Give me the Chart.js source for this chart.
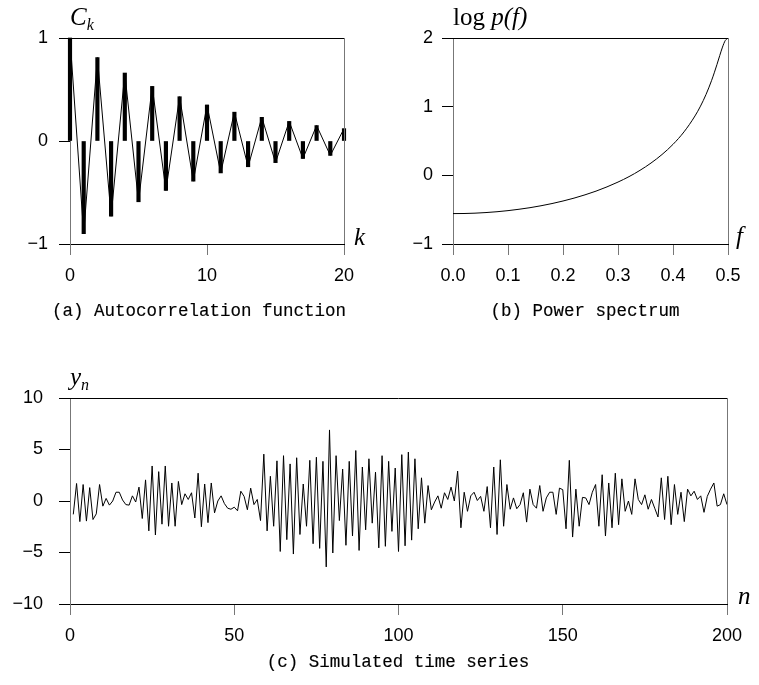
<!DOCTYPE html>
<html>
<head>
<meta charset="utf-8">
<script src="https://cdn.jsdelivr.net/npm/chart.js@4.4.0/dist/chart.umd.min.js"></script>
<style>
  html, body { margin:0; padding:0; background:#fff; }
  #page { position:relative; width:759px; height:685px; overflow:hidden; }
  #page canvas { position:absolute; }
  .math { position:absolute; font-family:"Liberation Serif", "DejaVu Serif", serif; font-style:italic; font-size:25px; line-height:24px; color:#000; white-space:nowrap; }
  .math sub { font-size:16px; vertical-align:-5px; line-height:0; }
  .math .up { font-style:normal; }
  .cap { position:absolute; font-family:"Liberation Mono", "DejaVu Sans Mono", monospace; font-size:17.5px; line-height:18px; color:#000; white-space:nowrap; transform:translateX(-50%); -webkit-text-stroke:0.15px #000; }
</style>
</head>
<body>
<div id="page">
  <canvas id="acfChart" width="380" height="300" style="left:0;top:0;"></canvas>
  <canvas id="specChart" width="379" height="300" style="left:380px;top:0;"></canvas>
  <canvas id="seriesChart" width="759" height="320" style="left:0;top:340px;"></canvas>

  <div class="math" style="left:70px;top:5px;">C<sub>k</sub></div>
  <div class="math" style="left:354px;top:225px;">k</div>
  <div class="math" style="left:453px;top:5px;"><span class="up">log</span> p(f)</div>
  <div class="math" style="left:736px;top:224px;">f</div>
  <div class="math" style="left:70px;top:365px;">y<sub>n</sub></div>
  <div class="math" style="left:738px;top:584px;">n</div>

  <div class="cap" style="left:199px;top:302px;">(a) Autocorrelation function</div>
  <div class="cap" style="left:585px;top:302px;">(b) Power spectrum</div>
  <div class="cap" style="left:398px;top:653px;">(c) Simulated time series</div>
</div>
<script>
/* ---------- data ---------- */
// (a) autocorrelation C_k
const acfLags = [0,1,2,3,4,5,6,7,8,9,10,11,12,13,14,15,16,17,18,19,20];
const acfValues = [1.00,-0.90,0.81,-0.73,0.66,-0.59,0.53,-0.48,0.43,-0.39,0.35,
                   -0.31,0.28,-0.25,0.23,-0.21,0.19,-0.17,0.15,-0.14,0.12];

// (b) log power spectrum
const specFreq = [0,0.02,0.04,0.06,0.08,0.10,0.12,0.14,0.16,0.18,0.20,0.22,0.24,0.26,0.28,0.30,
                  0.32,0.34,0.36,0.38,0.40,0.42,0.44,0.45,0.46,0.47,0.475,0.48,0.485,0.49,0.495,0.50];
const specLogP = [-0.557,-0.556,-0.551,-0.542,-0.530,-0.514,-0.494,-0.471,-0.443,-0.411,-0.374,-0.332,
                  -0.284,-0.230,-0.168,-0.098,-0.019,0.073,0.179,0.303,0.451,0.633,0.865,1.008,1.177,
                  1.378,1.493,1.616,1.745,1.868,1.963,2.000];

// (c) simulated series y_n, n = 1..200
const seriesValues = [
  -1.3, 1.7,-2.0, 1.6,-1.95, 1.3,-1.8,-1.25, 1.6,-0.5,
   0.25,-0.4, 0.0, 0.85, 0.85, 0.1,-0.35,-0.4, 0.5,-0.1,
   1.35,-1.7, 2.05,-2.9, 3.4,-3.3, 2.85,-2.25, 3.4,-2.45,
   1.75,-2.45, 1.9,-0.35, 0.7, 0.15, 0.8,-1.65, 2.7,-2.5,
   1.65,-2.1, 1.75,-1.15, 0.0, 0.5,-0.25,-0.7,-0.8,-0.6,
  -0.95, 0.95, 0.45,-0.85, 1.25,-0.35, 0.15,-1.9, 4.55,-2.9,
   2.4,-2.45, 3.9,-4.9, 4.4,-3.75, 3.6,-5.15, 4.2,-3.25,
   1.65,-2.45, 3.95,-4.15, 4.25,-4.6, 3.85,-6.4, 6.9,-5.05,
   4.4,-1.9, 3.1,-4.3, 3.85,-3.4, 4.9,-4.8, 3.3,-2.8,
   4.1,-2.15, 2.8,-4.55, 4.4,-4.4, 3.85,-2.95, 3.2,-4.9,
   4.5,-4.35, 4.75,-3.8, 4.1,-2.7, 2.25,-2.15, 1.5,-0.85,
  -0.1, 0.5,-0.7, 0.8, 0.15, 1.35, 0.0, 2.9,-2.6, 0.85,
  -1.0, 0.5, 0.85, 0.05, 0.45,-1.0, 1.4,-2.6, 3.3,-3.25,
   4.0,-2.45, 1.6,-0.8, 0.3,-0.75,-0.35, 0.8,-2.05, 1.15,
  -0.35,-0.7, 1.5,-1.0, 0.3, 0.85, 0.85,-1.3, 1.25, 1.1,
  -2.7, 3.95,-3.5, 1.15,-2.45, 0.35, 0.3,-0.35, 0.85, 1.6,
  -2.45, 2.55,-3.4, 1.75,-2.6, 2.7,-2.3, 2.15,-1.0, 0.0,
  -1.3, 2.15, 0.15,-0.35, 0.6,-0.8, 0.15,-0.7,-1.55, 2.25,
  -1.8, 2.4,-2.3, 1.6,-1.3, 0.85,-2.0, 1.15, 0.5, 0.95,
   0.15, 0.5,-1.1, 0.45, 1.15, 1.75,-0.5,-0.35, 0.7,-0.35
];

/* ---------- shared styling ---------- */
const TICK_FONT = { family: 'Liberation Sans', size: 18 };
const minusFmt = v => String(v).replace('-', '\u2212');

// top and right edges of the plot box (Chart.js only draws left/bottom borders)
const frameBox = {
  id: 'frameBox',
  afterDraw(chart) {
    const a = chart.chartArea, c = chart.ctx;
    const top = Math.round(a.top) + 0.5, right = Math.round(a.right) + 0.5;
    c.save();
    c.lineWidth = 1;
    c.strokeStyle = '#000';
    c.beginPath(); c.moveTo(a.left, top); c.lineTo(a.right, top); c.stroke();
    c.strokeStyle = '#777';
    c.beginPath(); c.moveTo(right, a.top); c.lineTo(right, a.bottom); c.stroke();
    c.restore();
  }
};

function xAxis(min, max, step, fmt, h) {
  return {
    type: 'linear', min, max, offset: false,
    border: { display: true, color: '#000', width: 1 },
    grid: { drawOnChartArea: false, drawTicks: true, tickLength: 11, color: '#777', offset: false },
    ticks: { stepSize: step, padding: 10, color: '#000', font: TICK_FONT, maxRotation: 0, autoSkip: false, callback: fmt },
    afterFit: s => { s.height = h; }
  };
}
function yAxis(min, max, step, pad, w) {
  return {
    min, max,
    border: { display: true, color: '#777', width: 1 },
    grid: { drawOnChartArea: false, drawTicks: true, tickLength: 11, color: '#000' },
    ticks: { stepSize: step, padding: pad, color: '#000', font: TICK_FONT, callback: minusFmt },
    afterFit: s => { s.width = w; }
  };
}
function baseOptions(padding) {
  return {
    responsive: false, animation: false, devicePixelRatio: 1,
    layout: { padding },
    plugins: { legend: { display: false }, tooltip: { enabled: false } },
    events: []
  };
}

/* ---------- (a) autocorrelation ---------- */
const acfPts = acfLags.map((k, i) => ({ x: k, y: acfValues[i] }));
new Chart(document.getElementById('acfChart'), {
  type: 'bar',
  data: {
    datasets: [
      { type: 'line', data: acfPts, borderColor: '#000', borderWidth: 1, pointRadius: 0, tension: 0, clip: false },
      { type: 'bar', data: acfPts, backgroundColor: '#000', barThickness: 3.5, clip: false }
    ]
  },
  options: Object.assign(baseOptions({ top: 38, right: 36, left: 0, bottom: 0 }), {
    scales: {
      x: xAxis(0, 20, 10, minusFmt, 56),
      y: yAxis(-1, 1, 1, 11, 70)
    }
  }),
  plugins: [frameBox]
});

/* ---------- (b) power spectrum ---------- */
new Chart(document.getElementById('specChart'), {
  type: 'line',
  data: {
    datasets: [{
      data: specFreq.map((f, i) => ({ x: f, y: specLogP[i] })),
      borderColor: '#000', borderWidth: 1, pointRadius: 0, cubicInterpolationMode: 'monotone'
    }]
  },
  options: Object.assign(baseOptions({ top: 38, right: 31, left: 0, bottom: 0 }), {
    scales: {
      x: xAxis(0, 0.5, 0.1, v => v.toFixed(1), 56),
      y: yAxis(-1, 2, 1, 9, 73)
    }
  }),
  plugins: [frameBox]
});

/* ---------- (c) simulated time series ---------- */
new Chart(document.getElementById('seriesChart'), {
  type: 'line',
  data: {
    datasets: [{
      data: seriesValues.map((v, i) => ({ x: i + 1, y: v })),
      borderColor: '#000', borderWidth: 1, pointRadius: 0, tension: 0
    }]
  },
  options: Object.assign(baseOptions({ top: 58, right: 32, left: 0, bottom: 0 }), {
    scales: {
      x: xAxis(0, 200, 50, minusFmt, 56),
      y: yAxis(-10, 10, 5, 16, 70)
    }
  }),
  plugins: [frameBox]
});
</script>
</body>
</html>
